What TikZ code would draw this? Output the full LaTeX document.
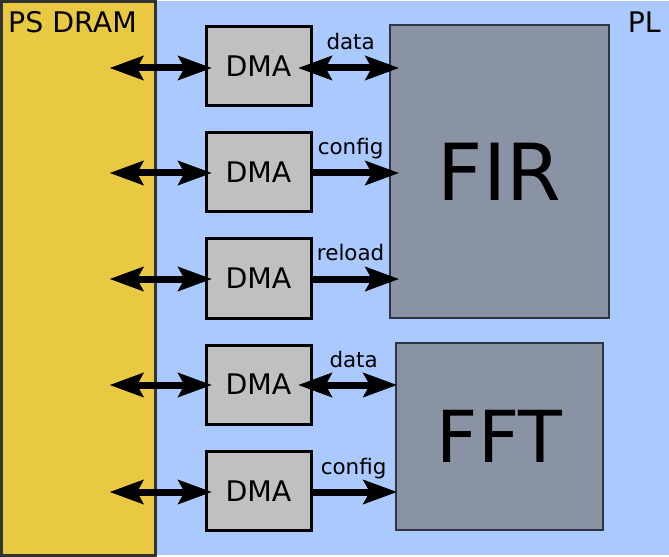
\documentclass[tikz,border=0pt]{standalone}
\usepackage{fontspec}
\setmainfont{DejaVu Sans}
\usepackage{tikz}
\usetikzlibrary{positioning,arrows.meta}
\usepackage{xcolor}

\definecolor{dramyellow}{RGB}{233,200,66}
\definecolor{plblue}{RGB}{170,201,255}
\definecolor{dmagray}{RGB}{192,192,192}
\definecolor{coregray}{RGB}{138,147,164}
\definecolor{coreedge}{RGB}{46,52,64}
\definecolor{dramedge}{RGB}{50,50,50}

\begin{document}
\begin{tikzpicture}[x=1bp,y=-1bp,
  dma/.style={draw=black,line width=3bp,fill=dmagray,minimum width=105bp,minimum height=79bp,inner sep=0pt,font=\fontsize{28.5}{28.5}\selectfont},
  core/.style={draw=coreedge,line width=2.5bp,fill=coregray,inner sep=0pt},
  tip/.tip={Stealth[length=34bp,width=25bp,inset=7bp,line width=0.5bp]},
  bus/.style={line width=7bp,-tip},
  bibus/.style={line width=7bp,tip-tip},
  lbl/.style={anchor=base,inner sep=0pt,yshift=18bp,font=\fontsize{21.5}{21.5}\selectfont},
  title/.style={inner sep=0pt,font=\fontsize{28.5}{28.5}\selectfont}]
\useasboundingbox (0,0) rectangle (669,557);
% regions
\fill[plblue] (155,1) rectangle (669,555);
\node (dram) [draw=dramedge,line width=3bp,fill=dramyellow,minimum width=153bp,minimum height=553bp,inner sep=0pt] at (78.5,278.5) {};
\node (ps) [title,anchor=base west] at (8,33) {PS DRAM};
\node (pl) [title,anchor=base east] at (661,33) {PL};
% dma engines
\node (dmaA) [dma] at (258.5,66) {DMA};
\node (dmaB) [dma] at (258.5,172) {DMA};
\node (dmaC) [dma] at (258.5,278.5) {DMA};
\node (dmaD) [dma] at (258.5,384.5) {DMA};
\node (dmaE) [dma] at (258.5,491) {DMA};
% accelerators
\node (fir) [core,minimum width=219bp,minimum height=293bp,font=\fontsize{79}{79}\selectfont] at (499.5,171.5) {FIR};
\node (fft) [core,minimum width=207bp,minimum height=187bp,font=\fontsize{72}{72}\selectfont] at (499.5,436.5) {FFT};
% memory side
\coordinate (mA) at (110,68);
\coordinate (mB) at (110,173);
\coordinate (mC) at (110,279);
\coordinate (mD) at (110,385);
\coordinate (mE) at (110,492);
\draw[bibus,shorten >=-7bp] (mA) -- (mA -| dmaA.west);
\draw[bibus,shorten >=-7bp] (mB) -- (mB -| dmaB.west);
\draw[bibus,shorten >=-7bp] (mC) -- (mC -| dmaC.west);
\draw[bibus,shorten >=-7bp] (mD) -- (mD -| dmaD.west);
\draw[bibus,shorten >=-7bp] (mE) -- (mE -| dmaE.west);
% stream side
\draw[bibus,shorten <=-14bp,shorten >=-10bp] (mA -| dmaA.east) -- (mA -| fir.west) node[lbl,midway] {data};
\draw[bus,shorten >=-10bp] (mB -| dmaB.east) -- (mB -| fir.west) node[lbl,midway] {config};
\draw[bus,shorten >=-10bp] (mC -| dmaC.east) -- (mC -| fir.west) node[lbl,midway] {reload};
\draw[bibus,shorten <=-14bp,shorten >=-2bp] (mD -| dmaD.east) -- (mD -| fft.west) node[lbl,midway] {data};
\draw[bus,shorten >=-2bp] (mE -| dmaE.east) -- (mE -| fft.west) node[lbl,midway] {config};
\end{tikzpicture}
\end{document}
